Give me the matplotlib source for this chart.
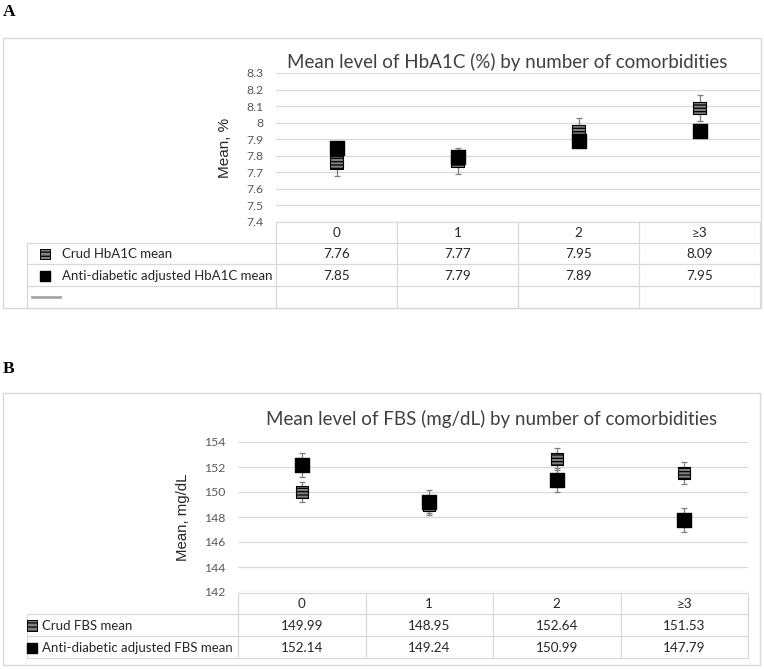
import matplotlib
matplotlib.use('Agg')
import matplotlib.pyplot as plt
from matplotlib.patches import Rectangle

plt.rcParams['hatch.color'] = 'white'
plt.rcParams['hatch.linewidth'] = 0.9

# ---------------- data ----------------
categories = ['0', '1', '2', '≥3']

hba1c_crude = [7.76, 7.77, 7.95, 8.09]
hba1c_adjusted = [7.85, 7.79, 7.89, 7.95]
hba1c_crude_err = [0.08, 0.08, 0.08, 0.08]
hba1c_ticks = [7.4, 7.5, 7.6, 7.7, 7.8, 7.9, 8.0, 8.1, 8.2, 8.3]
hba1c_tick_labels = ['7.4', '7.5', '7.6', '7.7', '7.8', '7.9', '8', '8.1', '8.2', '8.3']

fbs_crude = [149.99, 148.95, 152.64, 151.53]
fbs_adjusted = [152.14, 149.24, 150.99, 147.79]
fbs_crude_err = [0.8, 0.75, 0.85, 0.85]
fbs_adjusted_err = [0.97, 0.95, 0.97, 0.95]
fbs_ticks = [142, 144, 146, 148, 150, 152, 154]

title_a = 'Mean level of HbA1C (%) by number of comorbidities'
title_b = 'Mean level of FBS (mg/dL) by number of comorbidities'
series_a = ['Crud HbA1C mean', 'Anti-diabetic adjusted HbA1C mean']
series_b = ['Crud FBS mean', 'Anti-diabetic adjusted FBS mean']

# ---------------- style ----------------
W, H = 764, 669
FONT = ['Lato', 'DejaVu Sans']
GRID = '#d9d9d9'
TXT = '#262626'
TICK = '#595959'
CRUDE_FACE = '#808080'

fig = plt.figure(figsize=(W / 100, H / 100), dpi=100)

ov = fig.add_axes([0, 0, 1, 1], zorder=0)
ov.set_xlim(0, W)
ov.set_ylim(H, 0)
ov.axis('off')


def axes_px(l, t, r, b):
    ax = fig.add_axes([l / W, 1 - b / H, (r - l) / W, (b - t) / H], zorder=2)
    ax.patch.set_visible(False)
    return ax


def hline(y, x0, x1, **kw):
    ov.plot([x0, x1], [y, y], color=GRID, lw=0.9, solid_capstyle='butt', **kw)


def vline(x, y0, y1, **kw):
    ov.plot([x, x], [y0, y1], color=GRID, lw=0.9, solid_capstyle='butt', **kw)


def panel(ax, crude, adj, crude_err, adj_err, ticks, ticklabels, ylim):
    x = list(range(len(categories)))
    ax.set_xlim(-0.5, len(categories) - 0.5)
    ax.set_ylim(*ylim)
    ax.set_yticks(ticks)
    ax.set_yticklabels(ticklabels, family=FONT, fontsize=8.8, color=TICK)
    ax.set_xticks([])
    ax.tick_params(axis='y', length=0, pad=9)
    for s in ax.spines.values():
        s.set_visible(False)
    ax.yaxis.grid(True, color=GRID, lw=0.9)
    ax.set_axisbelow(True)
    ax.errorbar(x, crude, yerr=crude_err, fmt='none', ecolor='#7f7f7f',
                elinewidth=0.9, capsize=2.5, capthick=0.9, zorder=3)
    if adj_err is not None:
        ax.errorbar(x, adj, yerr=adj_err, fmt='none', ecolor='#7f7f7f',
                    elinewidth=0.9, capsize=2.5, capthick=0.9, zorder=3)
    ax.scatter(x, crude, marker='s', s=80, facecolor=CRUDE_FACE,
               edgecolor='black', linewidths=0.8, hatch='-----', zorder=4)
    ax.scatter(x, adj, marker='s', s=95, color='black', zorder=5)


def table(left, right, top, rows_y, label_x, icon_x, text_x, values, labels,
          icon_s, extra_row=False):
    n = len(categories)
    w = (right - left) / n
    bottom = rows_y[-1]
    hline(top, left, right)
    for y in rows_y:
        hline(y, 27, right)
    vline(27, rows_y[0], bottom)
    for i in range(n + 1):
        vline(left + i * w, top, bottom)
    # header
    for i, c in enumerate(categories):
        ov.text(left + (i + 0.5) * w, (top + rows_y[0]) / 2 + 0.5, c,
                ha='center', va='center', fontsize=9.7, color=TXT, family=FONT)
    for r, (vals, lab) in enumerate(zip(values, labels)):
        yc = (rows_y[r] + rows_y[r + 1]) / 2 + 0.5
        for i, v in enumerate(vals):
            ov.text(left + (i + 0.5) * w, yc, f'{v:.2f}', ha='center',
                    va='center', fontsize=9.7, color=TXT, family=FONT)
        ov.text(text_x, yc, lab, ha='left', va='center', fontsize=9.5,
                color=TXT, family=FONT)
        if r == 0:
            ov.scatter([icon_x], [yc], marker='s', s=icon_s,
                       facecolor=CRUDE_FACE, edgecolor='black',
                       linewidths=0.7, hatch='----', zorder=3)
        else:
            ov.scatter([icon_x], [yc], marker='s', s=icon_s, color='black',
                       zorder=3)
    if extra_row:
        yc = (rows_y[-2] + rows_y[-1]) / 2
        ov.plot([icon_x - 13, icon_x + 15], [yc, yc], color='#a6a6a6', lw=2)


# ---------------- Panel A ----------------
ov.text(9, 12, 'A', ha='center', va='center', fontsize=12.5,
        fontweight='bold', family='Liberation Serif', color='black')
ov.add_patch(Rectangle((3, 38), 758, 270, fill=False, edgecolor=GRID, lw=1))
ov.text(507, 62, title_a, ha='center', va='center', fontsize=13.5,
        color='#404040', family=FONT)
axA = axes_px(276, 73, 760, 222)
panel(axA, hba1c_crude, hba1c_adjusted, hba1c_crude_err, None,
      hba1c_ticks, hba1c_tick_labels, (7.4, 8.3))
ov.text(225, 147.5, 'Mean, %', rotation=90, ha='center', va='center',
        fontsize=11, color=TXT, family='Liberation Sans')
table(276, 760, 222, [243, 264, 286, 308], 27, 45, 62,
      [hba1c_crude, hba1c_adjusted], series_a, 60, extra_row=True)

# ---------------- Panel B ----------------
ov.text(9, 369, 'B', ha='center', va='center', fontsize=12.5,
        fontweight='bold', family='Liberation Serif', color='black')
ov.add_patch(Rectangle((3, 393), 757, 272, fill=False, edgecolor=GRID, lw=1))
ov.text(492, 419, title_b, ha='center', va='center', fontsize=13.5,
        color='#404040', family=FONT)
axB = axes_px(238, 442, 748, 592)
panel(axB, fbs_crude, fbs_adjusted, fbs_crude_err, fbs_adjusted_err,
      fbs_ticks, [str(t) for t in fbs_ticks], (142, 154))
ov.text(183, 517, 'Mean, mg/dL', rotation=90, ha='center', va='center',
        fontsize=10.8, color=TXT, family='Liberation Sans')
table(238, 748, 593, [614, 636, 658], 27, 32, 42,
      [fbs_crude, fbs_adjusted], series_b, 55)

fig.savefig('out.png', dpi=100)
